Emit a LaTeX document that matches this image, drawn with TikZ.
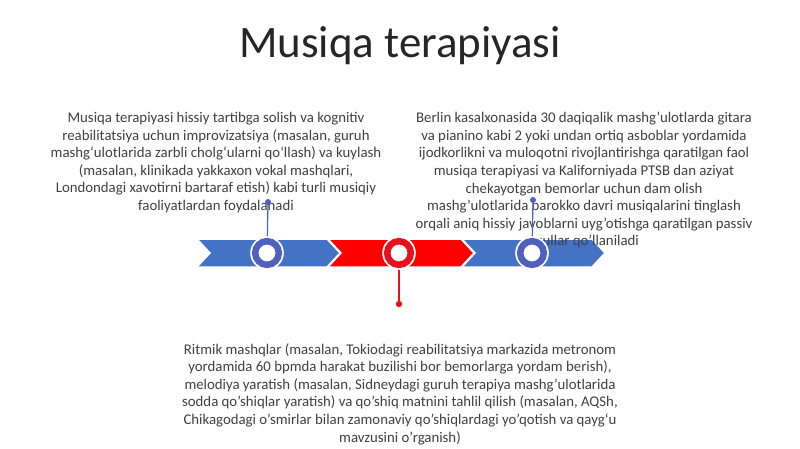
\documentclass[tikz,border=0pt]{standalone}
\usepackage{fontspec}
\setmainfont{Carlito}
\definecolor{cblue}{HTML}{4472C4}
\definecolor{rblue}{HTML}{5060BE}
\definecolor{cred}{HTML}{FF0000}
\definecolor{rred}{HTML}{E8101E}
\definecolor{txt}{HTML}{404040}
\definecolor{ttl}{HTML}{262626}
\tikzset{
  chev/.style={draw=white, line width=1.5pt, line join=miter},
  ringb/.style={draw=rblue, line width=6.5pt, fill=white},
  ringr/.style={draw=rred, line width=6.5pt, fill=white},
  body/.style={text=txt, font=\fontsize{14.8}{17.6}\selectfont, align=center, inner sep=0pt, anchor=north},
  conb/.style={draw=rblue, line width=1.2pt},
  conr/.style={draw=rred, line width=1.2pt},
}
\begin{document}
\begin{tikzpicture}[x=1pt,y=-1pt]
\useasboundingbox (0,0) rectangle (800,449);
\fill[white] (0,0) rectangle (800,449);
% title
\node[text=ttl, font=\fontsize{45}{48}\selectfont, inner sep=0pt] (title) at (400,46) {Musiqa terapiyasi};
% chevrons
\fill[cblue, chev] (197,239) -- (327,239) -- (340,253) -- (327,267) -- (197,267) -- (210,253) -- cycle;
\fill[cred, chev] (328,239) -- (461,239) -- (474,253) -- (461,267) -- (328,267) -- (341,253) -- cycle;
\fill[cblue, chev] (462,239) -- (592,239) -- (605,253) -- (592,267) -- (462,267) -- (475,253) -- cycle;
% texts
\node[body] (tl) at (216,112) {Musiqa terapiyasi hissiy tartibga solish va kognitiv\\
reabilitatsiya uchun improvizatsiya (masalan, guruh\\
mashg‘ulotlarida zarbli cholg‘ularni qo‘llash) va kuylash\\
(masalan, klinikada yakkaxon vokal mashqlari,\\
Londondagi xavotirni bartaraf etish) kabi turli musiqiy\\
faoliyatlardan foydalanadi};
\node[body] (tr) at (584,112) {Berlin kasalxonasida 30 daqiqalik mashg'ulotlarda gitara\\
va pianino kabi 2 yoki undan ortiq asboblar yordamida\\
ijodkorlikni va muloqotni rivojlantirishga qaratilgan faol\\
musiqa terapiyasi va Kaliforniyada PTSB dan aziyat\\
chekayotgan bemorlar uchun dam olish\\
mashg'ulotlarida barokko davri musiqalarini tinglash\\
orqali aniq hissiy javoblarni uyg'otishga qaratilgan passiv\\
usullar qo'llaniladi};
\node[body] (bt) at (400,343) {Ritmik mashqlar (masalan, Tokiodagi reabilitatsiya markazida metronom\\
yordamida 60 bpmda harakat buzilishi bor bemorlarga yordam berish),\\
melodiya yaratish (masalan, Sidneydagi guruh terapiya mashg'ulotlarida\\
sodda qo'shiqlar yaratish) va qo'shiq matnini tahlil qilish (masalan, AQSh,\\
Chikagodagi o'smirlar bilan zamonaviy qo'shiqlardagi yo'qotish va qayg‘u\\
mavzusini o'rganish)};
% markers
\coordinate (c1) at (267,253);
\coordinate (c2) at (399,253);
\coordinate (c3) at (532,253);
\coordinate (d1) at (268,202);
\coordinate (d2) at (399,304);
\coordinate (d3) at (533,200);
\draw[conb] (c1) -- (d1);
\fill[rblue] (d1) circle (3pt);
\draw[conb] (c3) -- (d3);
\fill[rblue] (d3) circle (3pt);
\draw[conr] (c2) -- (d2);
\fill[rred] (d2) circle (3.2pt);
\foreach \c/\s in {c1/ringb, c2/ringr, c3/ringb}{
  \fill[white] (\c) circle (16.8pt);
  \draw[\s] (\c) circle (11.8pt);
}
\end{tikzpicture}
\end{document}
